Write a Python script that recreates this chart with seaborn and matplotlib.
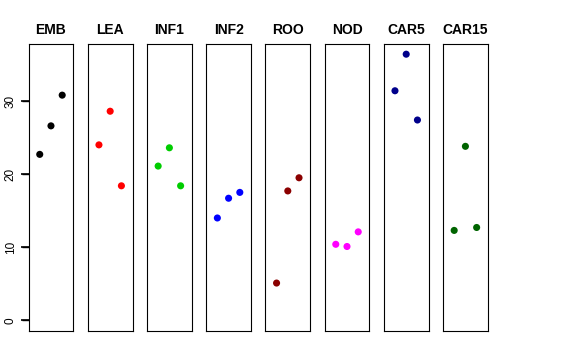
import matplotlib
matplotlib.use("Agg")
import matplotlib.pyplot as plt
import pandas as pd
import seaborn as sns

# data
tissues = ["EMB", "LEA", "INF1", "INF2", "ROO", "NOD", "CAR5", "CAR15"]
colors = ["black", "red", "#00CD00", "blue", "#8B0000", "magenta", "#00008B", "#006400"]
replicate = [1, 2, 3]
values = {
    "EMB": [22.7, 26.6, 30.8],
    "LEA": [24.0, 28.6, 18.4],
    "INF1": [21.1, 23.6, 18.4],
    "INF2": [14.0, 16.7, 17.5],
    "ROO": [5.1, 17.7, 19.5],
    "NOD": [10.4, 10.1, 12.1],
    "CAR5": [31.4, 36.4, 27.4],
    "CAR15": [12.3, 23.8, 12.7],
}
yticks = [0, 10, 20, 30]

rows = []
for t in tissues:
    for r, v in zip(replicate, values[t]):
        rows.append({"tissue": t, "rep": r, "value": v})
df = pd.DataFrame(rows)

sns.set_style("ticks")
plt.rcParams.update({
    "font.family": ["Liberation Sans", "DejaVu Sans"],
    "text.color": "black",
    "axes.edgecolor": "black",
    "ytick.color": "black",
    "ytick.left": True,
    "ytick.major.size": 5,
    "ytick.major.width": 1.0,
})

fig, axes = plt.subplots(1, len(tissues), figsize=(5.76, 3.6), dpi=100)
fig.subplots_adjust(left=0.0495, right=0.847, top=0.879, bottom=0.0806, wspace=0.318)

ymax = df["value"].max()
for i, (ax, t, c) in enumerate(zip(axes, tissues, colors)):
    sub = df[df["tissue"] == t]
    sns.scatterplot(data=sub, x="rep", y="value", color=c, s=26, edgecolor="none", ax=ax)
    ax.set_xlim(0, 4)
    ax.set_ylim(-0.04 * ymax, ymax * 1.04)
    ax.set_xticks([])
    ax.set_xlabel("")
    ax.set_ylabel("")
    ax.set_title(t, fontsize=10, fontweight="bold", pad=7, color="black")
    for sp in ax.spines.values():
        sp.set_visible(True)
        sp.set_color("black")
        sp.set_linewidth(0.8)
    if i == 0:
        ax.set_yticks(yticks)
        ax.set_yticklabels([str(v) for v in yticks], rotation=90, va="center",
                           fontsize=8.5, color="black")
        ax.tick_params(axis="y", left=True, length=5, width=1.0, pad=3.5)
        # tick marks also drawn as short lines left of the axis
        for yt in yticks:
            ax.plot([-0.16, 0], [yt, yt], transform=ax.get_yaxis_transform(),
                    color="black", linewidth=1.2, clip_on=False, zorder=10,
                    solid_capstyle="butt")
    else:
        ax.set_yticks([])

fig.savefig("out.png", dpi=100)
